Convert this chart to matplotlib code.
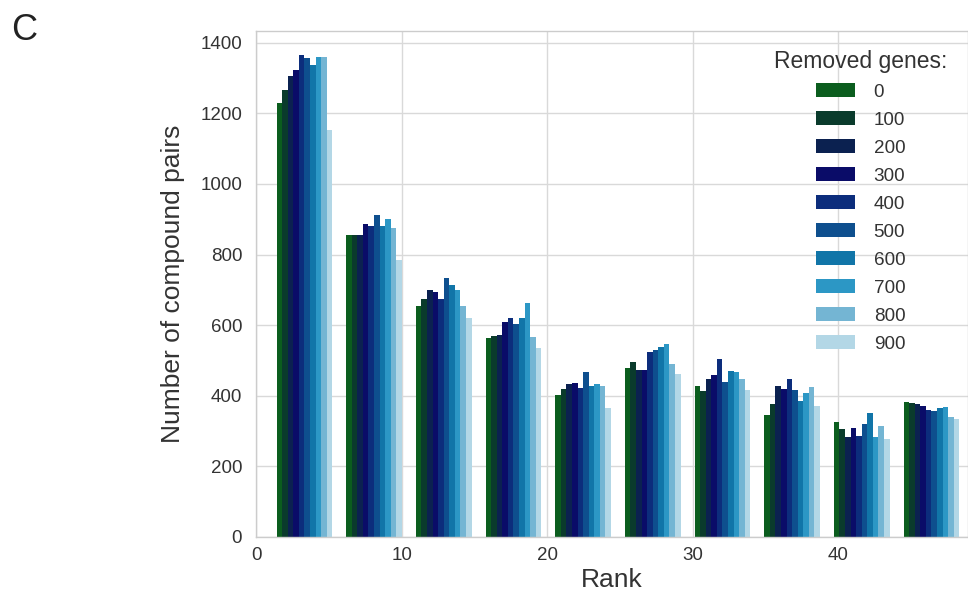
import numpy as np
import matplotlib
matplotlib.use("Agg")
import matplotlib.pyplot as plt

# Rank bins (10 equal-width bins over the top ranks)
rank_bin_edges = np.linspace(0.93, 48.8, 11)

removed_genes = ["0", "100", "200", "300", "400", "500", "600", "700", "800", "900"]

# Number of compound pairs per rank bin, one list per removed-gene setting
pairs_0 = [1230, 855, 655, 563, 402, 480, 428, 346, 327, 381]
pairs_100 = [1265, 856, 675, 569, 418, 497, 414, 376, 305, 380]
pairs_200 = [1305, 856, 700, 573, 434, 473, 448, 427, 284, 376]
pairs_300 = [1322, 887, 695, 609, 437, 473, 459, 420, 308, 371]
pairs_400 = [1365, 880, 674, 621, 422, 523, 504, 448, 286, 360]
pairs_500 = [1358, 911, 735, 604, 466, 531, 438, 415, 320, 358]
pairs_600 = [1336, 881, 714, 621, 429, 538, 470, 385, 351, 364]
pairs_700 = [1360, 900, 699, 664, 432, 546, 467, 408, 284, 367]
pairs_800 = [1360, 875, 654, 566, 427, 491, 447, 425, 314, 340]
pairs_900 = [1153, 785, 621, 536, 366, 463, 417, 372, 278, 335]

series = [pairs_0, pairs_100, pairs_200, pairs_300, pairs_400,
          pairs_500, pairs_600, pairs_700, pairs_800, pairs_900]

colors = ["#0b5d1e", "#0a3b2c", "#0b2150", "#0a0c68", "#0c2d7c",
          "#0e4f8e", "#1175a8", "#2c97c5", "#74b5d3", "#b3d7e6"]

plt.rcParams["font.family"] = ["Liberation Sans", "DejaVu Sans"]
text_color = "#333333"

fig = plt.figure(figsize=(9.68, 5.92), dpi=100)
ax = fig.add_axes([0.2645, 0.093, 0.7355, 0.855])

bin_centers = 0.5 * (rank_bin_edges[:-1] + rank_bin_edges[1:])
ax.hist([bin_centers] * len(series), bins=rank_bin_edges, weights=series,
        color=colors, label=removed_genes, linewidth=0, zorder=2)

ax.set_xlim(0, 48.92)
ax.set_ylim(0, 1434)
ax.set_xticks([0, 10, 20, 30, 40])
ax.set_yticks(np.arange(0, 1401, 200))

ax.grid(True, color="#d9d9d9", linewidth=1.0, zorder=0)
ax.set_axisbelow(True)
for side in ["left", "bottom", "top", "right"]:
    ax.spines[side].set_color("#cccccc")
    ax.spines[side].set_linewidth(1.0)

ax.tick_params(axis="both", length=0, labelsize=13.5, labelcolor=text_color)
ax.tick_params(axis="y", pad=10)
ax.tick_params(axis="x", pad=7)

ax.set_xlabel("Rank", fontsize=19, color=text_color, labelpad=3)
ax.set_ylabel("Number of compound pairs", fontsize=19, color=text_color)
ax.yaxis.set_label_coords(-0.1, 0.5)

leg = ax.legend(title="Removed genes:", loc="upper right", frameon=False,
                fontsize=13.6, title_fontsize=16.5, handlelength=2.05,
                handleheight=0.7, labelspacing=0.57, handletextpad=1.0,
                borderaxespad=0.2, bbox_to_anchor=(0.987, 0.985))
for t in leg.get_texts():
    t.set_color(text_color)
leg.get_title().set_color(text_color)

fig.text(0.012, 0.948, "C", fontsize=26, color="#222222", va="center")

fig.savefig("out.png", dpi=100)
